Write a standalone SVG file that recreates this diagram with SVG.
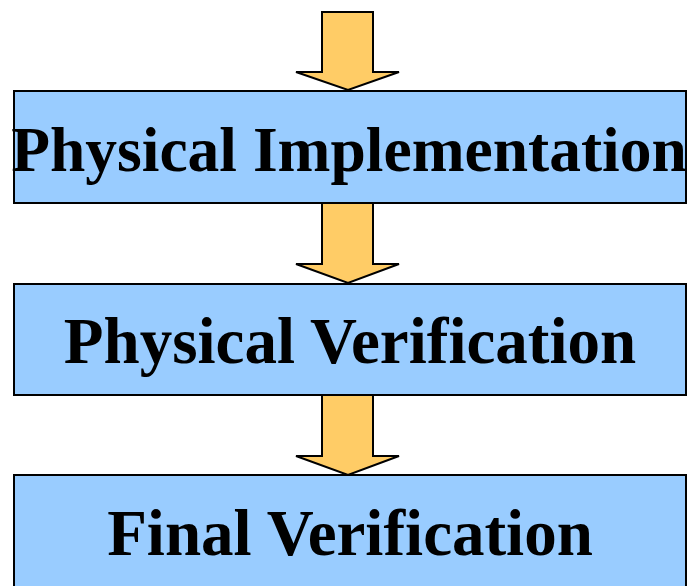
<svg xmlns="http://www.w3.org/2000/svg" width="692" height="586" viewBox="0 0 692 586">
<style>
.box{fill:#99CCFF;stroke:#000;stroke-width:2}
.lbl{font-family:"Liberation Serif","Times New Roman",serif;font-weight:bold;font-size:65px;fill:#000;text-anchor:middle}
.arr{fill:#FFCC66;stroke:#000;stroke-width:2;stroke-linejoin:miter}
</style>
<rect width="692" height="586" fill="#fff"/>
<g id="connectors">
<polygon class="arr" points="322,12 373,12 373,72 399,72 348,90 296,72 322,72"/>
<polygon class="arr" points="322,203 373,203 373,264 399,264 348,283 296,264 322,264"/>
<polygon class="arr" points="322,395 373,395 373,456 399,456 348,475 296,456 322,456"/>
</g>
<g id="node-physical-implementation">
<rect class="box" x="14" y="91" width="672" height="112"/>
<text class="lbl" x="349" y="171" style="font-size:63.5px">Physical Implementation</text>
</g>
<g id="node-physical-verification">
<rect class="box" x="14" y="284" width="672" height="111"/>
<text class="lbl" x="350" y="363">Physical Verification</text>
</g>
<g id="node-final-verification">
<rect class="box" x="14" y="475" width="672" height="130"/>
<text class="lbl" x="350" y="555">Final Verification</text>
</g>
</svg>
